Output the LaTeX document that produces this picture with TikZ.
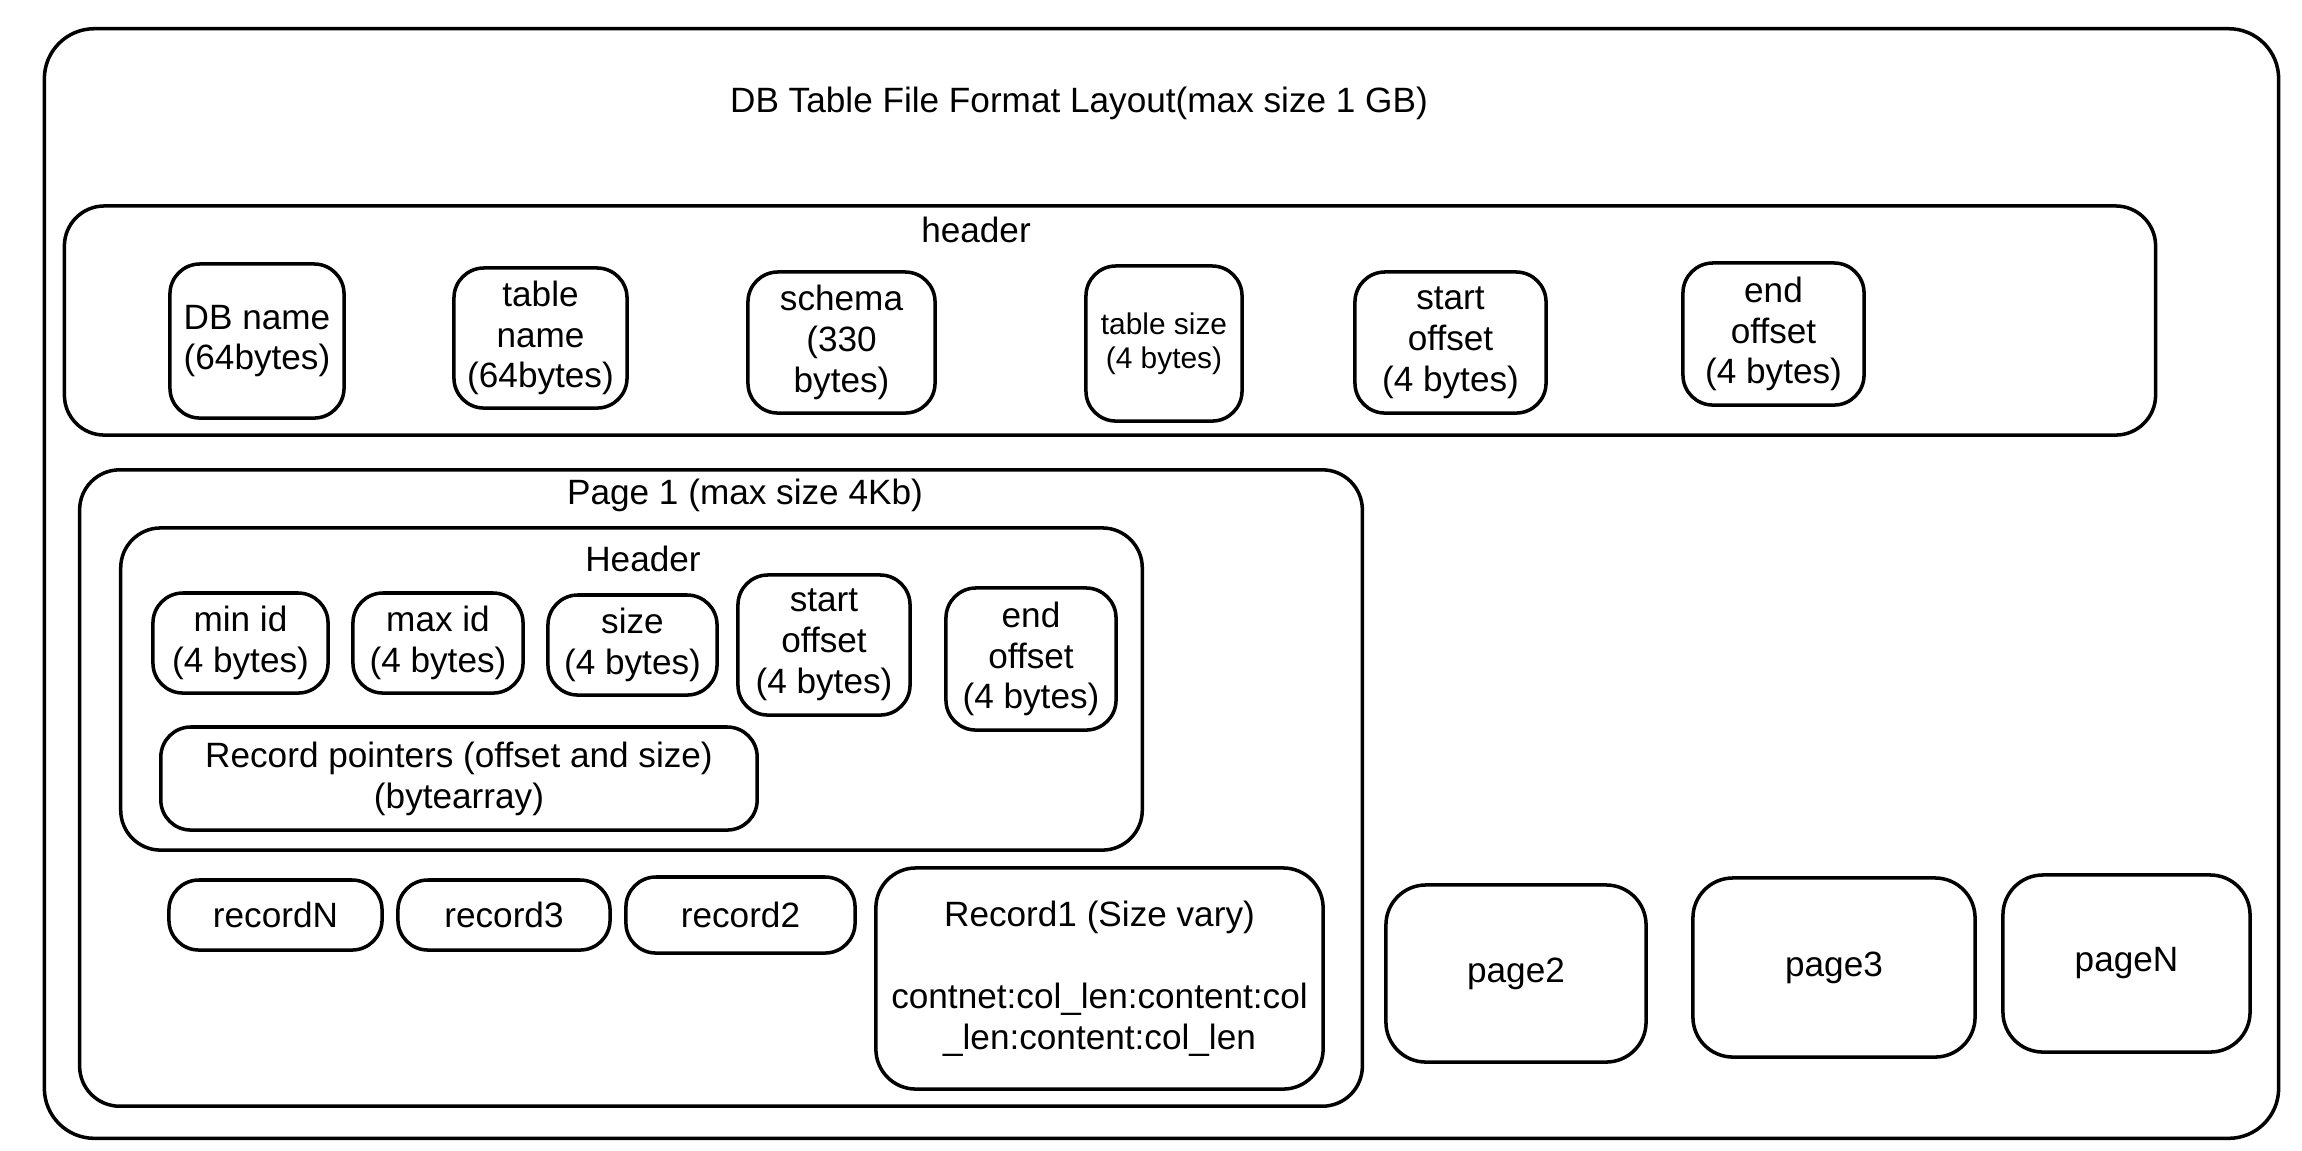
\documentclass[tikz,border=0pt]{standalone}
\usepackage{fontspec}
\setmainfont{Liberation Sans}

\begin{document}
\begin{tikzpicture}[x=0.01cm, y=-0.01cm, line width=1pt, font=\fontsize{10}{11.6}\selectfont]
\tikzstyle{frame}=[draw=black, rounded corners=0.4cm, inner sep=0pt]
\tikzstyle{field}=[draw=black, rounded corners=0.3cm, inner sep=0pt, align=center]
\tikzstyle{caption}=[inner sep=0pt]
\tikzset{dims/.style 2 args={minimum width=#1cm, minimum height=#2cm}}
\useasboundingbox (0,0) rectangle (2302,1150);

% whole file
\node[frame, rounded corners=0.5cm, dims={22.33}{11.09}] (file) at (1161.5,583.5) {};
\node[caption] (title) at (1079,103) {DB Table File Format Layout(max size 1 GB)};

% file header
\node[frame, dims={20.90}{2.29}] (fhead) at (1110,320.5) {};
\node[caption] (fheadlbl) at (976,230) {header};
\node[field, dims={1.74}{1.54}] (dbname) at (257,341)    {DB name\\(64bytes)};
\node[field, dims={1.73}{1.40}] (tname)  at (540.5,338)  {table\\name\\(64bytes)};
\node[field, dims={1.87}{1.41}] (schema) at (841.5,342.5) {schema\\(330\\bytes)};
\node[field, dims={1.56}{1.55}, font=\fontsize{8.5}{9.6}\selectfont] (tsize) at (1164,343.5) {table size\\(4 bytes)};
\node[field, dims={1.91}{1.41}] (fstart) at (1450.5,342.5) {start\\offset\\(4 bytes)};
\node[field, dims={1.81}{1.42}] (fend)   at (1773.5,334)  {end\\offset\\(4 bytes)};

% page 1
\node[frame, dims={12.82}{6.36}] (page1) at (721,788) {};
\node[caption] (p1lbl) at (745,495) {Page 1 (max size 4Kb)};
\node[frame, dims={10.21}{3.22}] (phead) at (631.5,689) {};
\node[caption] (pheadlbl) at (643,559) {Header};
\node[field, dims={1.75}{1.00}] (minid)  at (240.5,643) {min id\\(4 bytes)};
\node[field, dims={1.70}{1.00}] (maxid)  at (438,643)   {max id\\(4 bytes)};
\node[field, dims={1.69}{1.00}] (psize)  at (632.5,645) {size\\(4 bytes)};
\node[field, dims={1.72}{1.40}] (pstart) at (824,645)   {start\\offset\\(4 bytes)};
\node[field, dims={1.70}{1.42}] (pend)   at (1031,659)  {end\\offset\\(4 bytes)};
\node[field, dims={5.96}{1.03}] (rptr)   at (459,778.5) {Record pointers (offset and size)\\(bytearray)};

% records
\node[field, dims={2.13}{0.70}] (recN) at (275.5,915) {recordN};
\node[field, dims={2.12}{0.70}] (rec3) at (504,915)   {record3};
\node[field, dims={2.29}{0.76}] (rec2) at (740.5,915) {record2};
\node[field, rounded corners=0.4cm, dims={4.47}{2.21}] (rec1) at (1099.5,978.5)
  {Record1 (Size vary)\\[0.41cm]contnet:col\_len:content:col\\\_len:content:col\_len};

% other pages
\node[field, rounded corners=0.4cm, dims={2.60}{1.77}] (page2) at (1516,973.5) {page2};
\node[field, rounded corners=0.4cm, dims={2.82}{1.79}] (page3) at (1834,967.5) {page3};
\node[field, rounded corners=0.4cm, dims={2.47}{1.77}] (pageN) at (2126.5,963.5) {pageN};
\end{tikzpicture}
\end{document}
